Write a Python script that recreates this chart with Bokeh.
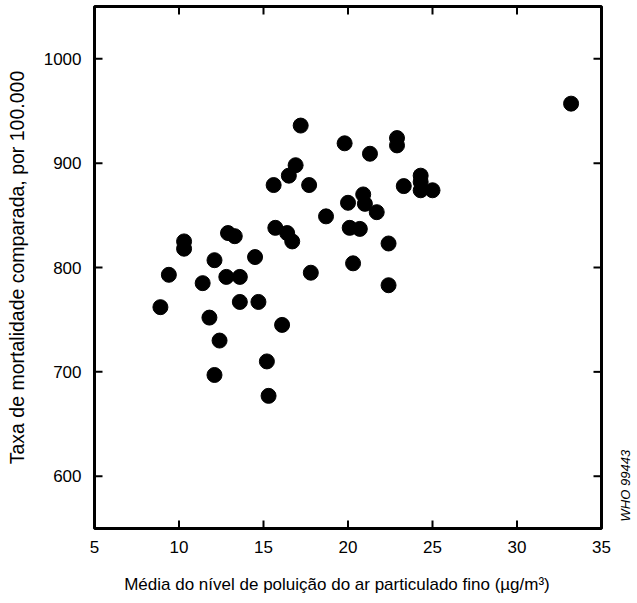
import math
from bokeh.plotting import figure
from bokeh.models import Range1d, LinearAxis, FixedTicker, ColumnDataSource
from bokeh.core.properties import value
from bokeh.embed import file_html
from bokeh.resources import INLINE

# Data
pm25 = [8.9, 9.4, 10.3, 10.3, 11.4, 11.8, 12.1, 12.1, 12.4, 12.8, 12.9, 13.3,
        13.6, 13.6, 14.5, 14.7, 15.2, 15.3, 15.6, 15.7, 16.1, 16.5, 16.4, 16.7,
        16.9, 17.2, 17.7, 17.8, 18.7, 19.8, 20.0, 20.1, 20.3, 20.7, 20.9, 21.0,
        21.3, 21.7, 22.4, 22.4, 22.9, 22.9, 23.3, 24.3, 24.3, 24.3, 25.0, 33.2]
mortality = [762, 793, 825, 818, 785, 752, 807, 697, 730, 791, 833, 830,
             791, 767, 810, 767, 710, 677, 879, 838, 745, 888, 833, 825,
             898, 936, 879, 795, 849, 919, 862, 838, 804, 837, 870, 861,
             909, 853, 823, 783, 924, 917, 878, 888, 882, 874, 874, 957]
x_ticks = [5, 10, 15, 20, 25, 30, 35]
y_ticks = [600, 700, 800, 900, 1000]
x_min, x_max = 5, 35
y_min, y_max = 550, 1050

x_label = "Média do nível de poluição do ar particulado fino (µg/m³)"
y_label = "Taxa de mortalidade comparada, por 100.000"
code_label = "WHO 99443"

FONT = "Liberation Sans"

# layout in pixels
FRAME_L, FRAME_R, FRAME_T, FRAME_B = 92, 632, 4, 530
W, H = 632, 596
PX_X = 16.9                       # pixels per x unit
PX_Y = (FRAME_B - FRAME_T) / 504  # pixels per y unit
x_start = x_min - 2 / PX_X
x_end = x_start + (FRAME_R - FRAME_L) / PX_X
y_start, y_end = y_min - 2, y_max + 2
TICK_PX = 8

p = figure(width=W, height=H, output_backend="svg", toolbar_location=None,
           x_range=Range1d(x_start, x_end), y_range=Range1d(y_start, y_end),
           x_axis_location=None, y_axis_location=None,
           min_border_left=FRAME_L, min_border_right=W - FRAME_R,
           min_border_top=FRAME_T, min_border_bottom=H - FRAME_B)
p.background_fill_color = "white"
p.border_fill_color = "white"
p.grid.visible = False
p.outline_line_color = None

def style_axis(ax, ticks, label_size):
    ax.ticker = FixedTicker(ticks=ticks)
    ax.axis_line_color = None
    ax.major_tick_in = 0
    ax.major_tick_out = 0
    ax.major_tick_line_color = None
    ax.minor_tick_line_color = None
    ax.major_label_text_font = FONT
    ax.major_label_text_font_size = "17px"
    ax.major_label_text_color = "black"
    ax.axis_label_text_font = FONT
    ax.axis_label_text_font_size = label_size
    ax.axis_label_text_font_style = "normal"
    ax.axis_label_text_color = "black"

# trailing em spaces keep the label centred under the box rather than the wider frame
xb = LinearAxis(axis_label=x_label + "\u2003\u2003\u2003")
style_axis(xb, x_ticks, "17px")
xb.major_label_standoff = 10
xb.axis_label_standoff = 19
p.add_layout(xb, "below")

yl = LinearAxis(axis_label=y_label)
style_axis(yl, y_ticks, "19.5px")
yl.major_label_standoff = 11
yl.axis_label_standoff = 13
p.add_layout(yl, "left")

# the plot box
p.quad(left=[x_min], right=[x_max], bottom=[y_min], top=[y_max],
       fill_color=None, line_color="black", line_width=3)

# inward tick marks on all four sides
tx = TICK_PX / PX_X
ty = TICK_PX / PX_Y
n_x, n_y = len(x_ticks), len(y_ticks)
p.segment(x0=x_ticks, y0=[y_min] * n_x, x1=x_ticks, y1=[y_min + ty] * n_x,
          line_color="black", line_width=2)
p.segment(x0=x_ticks, y0=[y_max] * n_x, x1=x_ticks, y1=[y_max - ty] * n_x,
          line_color="black", line_width=2)
p.segment(x0=[x_min] * n_y, y0=y_ticks, x1=[x_min + tx] * n_y, y1=y_ticks,
          line_color="black", line_width=2)
p.segment(x0=[x_max] * n_y, y0=y_ticks, x1=[x_max - tx] * n_y, y1=y_ticks,
          line_color="black", line_width=2)

src = ColumnDataSource(data=dict(x=pm25, y=mortality))
p.scatter("x", "y", source=src, size=15, fill_color="black", line_color="black")

# figure code, placed just right of the box, near its bottom
p.text(x=[x_max + 24 / PX_X], y=[y_min + 7 / PX_Y], text=[code_label], angle=math.pi / 2,
       text_font=value(FONT), text_font_size="13px", text_font_style="italic",
       text_color="black", text_align="left", text_baseline="middle")

open("out.html", "w").write(file_html(p, INLINE))
